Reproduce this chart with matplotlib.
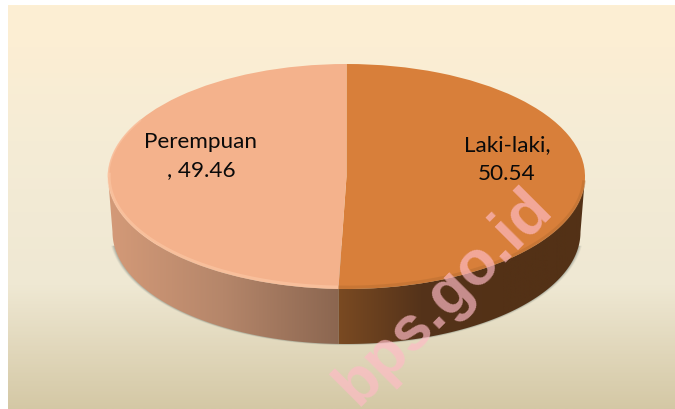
import numpy as np
import matplotlib
matplotlib.use("Agg")
import matplotlib.pyplot as plt
from matplotlib.colors import LinearSegmentedColormap
from matplotlib.patches import Polygon

labels = ['Laki-laki', 'Perempuan']
values = [50.54, 49.46]
top_colors = ['#D87F3A', '#F4B28C']
side_stops = [['#7A4A22', '#55331A', '#533116', '#533116'],
              ['#8B6650', '#B5866A', '#D49A78']]
bg_ys = [5, 45, 140, 285, 409]
bg_colors = ['#FDEFD3', '#FCEED3', '#F5ECD6', '#EFE8D3', '#D4C8A5']

W, H = 675, 409
cx, cy, rx, ry = 346.5, 176.5, 238.5, 112.5
bx, by, brx, bry = 346.5, 232.0, 234.0, 112.0

# unit circle of the pie lands on the ellipse in pixel space
def ux(px):
    return (px - cx) / rx

def uy(py):
    return (cy - py) / ry

fig = plt.figure(figsize=(W / 100, H / 100), dpi=100, facecolor='white')
ax = fig.add_axes([0, 0, 1, 1])

ax.pie(values, colors=top_colors, startangle=90, counterclock=False, radius=1,
       wedgeprops=dict(linewidth=0, zorder=5))
ax.set_aspect('auto')

# background
grad_y = np.arange(5, H)
grad_cmap = LinearSegmentedColormap.from_list(
    'bg', [((y - 5) / (H - 5), c) for y, c in zip(bg_ys, bg_colors)])
bg = ax.imshow(((grad_y - 5) / (H - 5)).reshape(-1, 1), cmap=grad_cmap, aspect='auto',
               extent=[ux(8), ux(W), uy(H), uy(5)], origin='upper', zorder=0, vmin=0, vmax=1)

# side wall, one piece per slice
split = 360 * values[0] / sum(values)
ranges = [(90, split), (split, 270)]


def side_points(a0, a1):
    t = np.radians(np.linspace(a0, a1, 120))
    top = np.column_stack([np.sin(t), np.cos(t)])
    bot_x = ux(bx + brx * np.sin(t[::-1]))
    bot_y = uy(by - bry * np.cos(t[::-1]))
    return np.vstack([top, np.column_stack([bot_x, bot_y])])


# soft shadow just outside the wall
for off, alpha in [(3.0, 0.10), (2.0, 0.16), (1.0, 0.25)]:
    t = np.radians(np.linspace(97, 263, 200))
    sx = ux(bx + (brx + off) * np.sin(t))
    sy = uy(by - (bry + off * 0.4) * np.cos(t))
    poly = Polygon(np.column_stack([sx, sy]), closed=True, fc='#6E7A72', ec='none', alpha=alpha, zorder=1)
    ax.add_patch(poly)

for (a0, a1), stops in zip(ranges, side_stops):
    pts = side_points(a0, a1)
    poly = Polygon(pts, closed=True, fc='none', ec='none', transform=ax.transData)
    ax.add_patch(poly)
    x0, x1 = pts[:, 0].min(), pts[:, 0].max()
    cmap = LinearSegmentedColormap.from_list('side', stops)
    if a0 == 90:
        img = np.linspace(0, 1, 256).reshape(1, -1)
    else:
        img = np.linspace(0, 1, 256)[::-1].reshape(1, -1)
    im = ax.imshow(img, cmap=cmap, aspect='auto', extent=[x0, x1, uy(350), uy(170)], zorder=2)
    im.set_clip_path(poly)

# bevel along the front rim of the top face
for (a0, a1), col, a in [((split, 272), '#FFCFAE', 0.45), ((92, split), '#B96F31', 0.5)]:
    t = np.radians(np.linspace(a0, a1, 200))
    ax.plot(np.sin(t) * 0.996, np.cos(t) * 0.985, color=col, lw=2.4, alpha=a, zorder=6,
            solid_capstyle='butt')
t = np.radians(np.linspace(270, 300, 60))
ax.plot(np.sin(t) * 0.998, np.cos(t) * 0.995, color='#FBC4A2', lw=1.2, alpha=0.7, zorder=6)

ax.set_xlim(ux(0), ux(W))
ax.set_ylim(uy(H), uy(0))
ax.set_axis_on()
ax.set_xticks([])
ax.set_yticks([])
for s in ax.spines.values():
    s.set_visible(False)

# data labels
font = ['Lato', 'DejaVu Sans']
ax.text(ux(200.5), uy(142), labels[1], family=font, fontsize=16.2, color='#0A0A0A',
        ha='center', va='center', zorder=8)
ax.text(ux(201), uy(170), ', ' + f'{values[1]:.2f}', family=font, fontsize=16.2, color='#0A0A0A',
        ha='center', va='center', zorder=8)
ax.text(ux(507), uy(145), labels[0] + ',', family=font, fontsize=16.2, color='#0A0A0A',
        ha='center', va='center', zorder=8)
ax.text(ux(507), uy(174), f'{values[0]:.2f}', family=font, fontsize=16.2, color='#0A0A0A',
        ha='center', va='center', zorder=8)

# watermark
ax.text(ux(444), uy(297), 'bps.go.id', family='Liberation Sans', fontweight='bold', fontsize=45,
        color='#FFBBC6', alpha=0.68, rotation=45, rotation_mode='anchor',
        ha='center', va='center', zorder=9)

fig.savefig('out.png', dpi=100)
